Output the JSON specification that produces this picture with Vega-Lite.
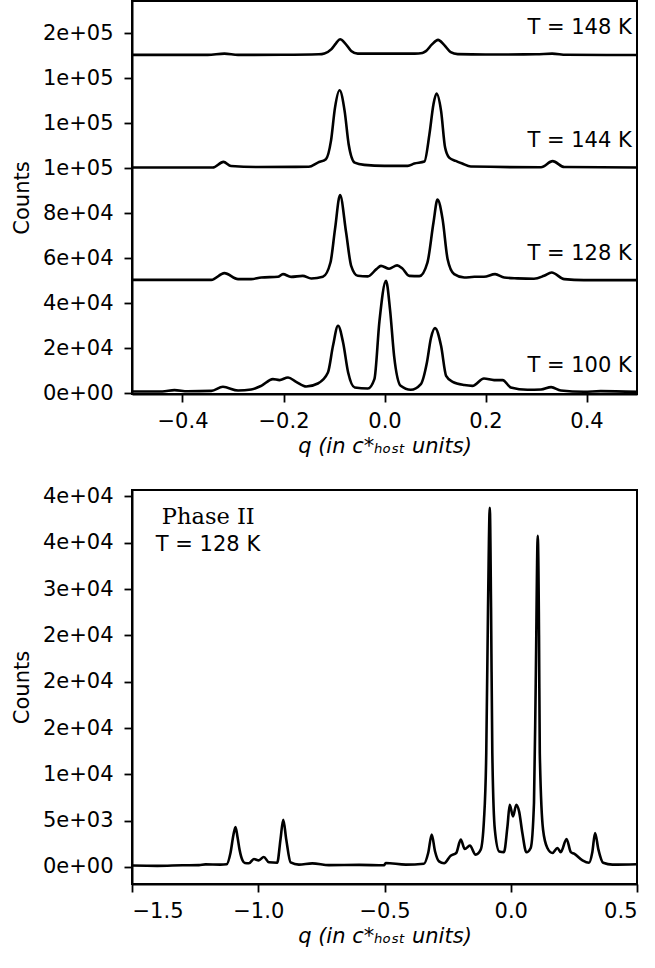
{
  "$schema": "https://vega.github.io/schema/vega-lite/v6.json",
  "background": "white",
  "padding": {"left": 10, "top": 0, "right": 0, "bottom": 5},
  "spacing": 27,
  "config": {
    "view": {"stroke": "black", "strokeWidth": 2},
    "font": "DejaVu Sans",
    "axis": {
      "domainColor": "black", "domainWidth": 2,
      "tickColor": "black", "tickWidth": 1.8, "tickSize": 8,
      "labelFontSize": 21, "labelColor": "black", "labelFont": "DejaVu Sans", "labelPadding": 8,
      "titleFontSize": 21, "titleFontWeight": "normal", "titleColor": "black", "titleFont": "DejaVu Sans",
      "grid": false
    },
    "axisY": {"labelPadding": 11, "titlePadding": 10}
  },
  "datasets": {
    "top": [
      {"T": "148 K", "q": -0.5, "counts": 150350}, {"T": "148 K", "q": -0.35, "counts": 150350}, {"T": "148 K", "q": -0.317, "counts": 150900}, {"T": "148 K", "q": -0.29, "counts": 150350}, {"T": "148 K", "q": -0.2, "counts": 150400}, {"T": "148 K", "q": -0.13, "counts": 150600}, {"T": "148 K", "q": -0.119, "counts": 151000}, {"T": "148 K", "q": -0.105, "counts": 152900}, {"T": "148 K", "q": -0.096, "counts": 155500}, {"T": "148 K", "q": -0.088, "counts": 157300}, {"T": "148 K", "q": -0.078, "counts": 155500}, {"T": "148 K", "q": -0.066, "counts": 152100}, {"T": "148 K", "q": -0.053, "counts": 150900}, {"T": "148 K", "q": -0.03, "counts": 150900}, {"T": "148 K", "q": 0.0, "counts": 150900}, {"T": "148 K", "q": 0.06, "counts": 150900}, {"T": "148 K", "q": 0.075, "counts": 151200}, {"T": "148 K", "q": 0.082, "counts": 152000}, {"T": "148 K", "q": 0.094, "counts": 155000}, {"T": "148 K", "q": 0.106, "counts": 157000}, {"T": "148 K", "q": 0.118, "counts": 154800}, {"T": "148 K", "q": 0.131, "counts": 151600}, {"T": "148 K", "q": 0.145, "counts": 150700}, {"T": "148 K", "q": 0.2, "counts": 150500}, {"T": "148 K", "q": 0.3, "counts": 150600}, {"T": "148 K", "q": 0.332, "counts": 150900}, {"T": "148 K", "q": 0.36, "counts": 150400}, {"T": "148 K", "q": 0.5, "counts": 150300},
      {"T": "144 K", "q": -0.5, "counts": 100300}, {"T": "144 K", "q": -0.34, "counts": 100300}, {"T": "144 K", "q": -0.319, "counts": 102790}, {"T": "144 K", "q": -0.304, "counts": 100970}, {"T": "144 K", "q": -0.25, "counts": 100500}, {"T": "144 K", "q": -0.15, "counts": 100600}, {"T": "144 K", "q": -0.132, "counts": 102480}, {"T": "144 K", "q": -0.116, "counts": 104000}, {"T": "144 K", "q": -0.106, "counts": 112120}, {"T": "144 K", "q": -0.098, "counts": 126920}, {"T": "144 K", "q": -0.089, "counts": 134600}, {"T": "144 K", "q": -0.079, "counts": 125450}, {"T": "144 K", "q": -0.071, "counts": 110650}, {"T": "144 K", "q": -0.059, "counts": 102480}, {"T": "144 K", "q": -0.04, "counts": 101460}, {"T": "144 K", "q": 0.0, "counts": 101000}, {"T": "144 K", "q": 0.046, "counts": 101000}, {"T": "144 K", "q": 0.059, "counts": 102040}, {"T": "144 K", "q": 0.079, "counts": 102920}, {"T": "144 K", "q": 0.089, "counts": 115100}, {"T": "144 K", "q": 0.097, "counts": 128430}, {"T": "144 K", "q": 0.103, "counts": 133150}, {"T": "144 K", "q": 0.112, "counts": 125450}, {"T": "144 K", "q": 0.12, "counts": 109150}, {"T": "144 K", "q": 0.128, "counts": 104700}, {"T": "144 K", "q": 0.141, "counts": 103230}, {"T": "144 K", "q": 0.154, "counts": 102040}, {"T": "144 K", "q": 0.171, "counts": 100700}, {"T": "144 K", "q": 0.31, "counts": 100400}, {"T": "144 K", "q": 0.333, "counts": 103100}, {"T": "144 K", "q": 0.356, "counts": 100500}, {"T": "144 K", "q": 0.5, "counts": 100300},
      {"T": "128 K", "q": -0.5, "counts": 50350}, {"T": "128 K", "q": -0.343, "counts": 50350}, {"T": "128 K", "q": -0.317, "counts": 53330}, {"T": "128 K", "q": -0.29, "counts": 50660}, {"T": "128 K", "q": -0.264, "counts": 50660}, {"T": "128 K", "q": -0.244, "counts": 51370}, {"T": "128 K", "q": -0.211, "counts": 51700}, {"T": "128 K", "q": -0.201, "counts": 52880}, {"T": "128 K", "q": -0.185, "counts": 51680}, {"T": "128 K", "q": -0.162, "counts": 52130}, {"T": "128 K", "q": -0.145, "counts": 50930}, {"T": "128 K", "q": -0.122, "counts": 51680}, {"T": "128 K", "q": -0.107, "counts": 58040}, {"T": "128 K", "q": -0.098, "counts": 72880}, {"T": "128 K", "q": -0.088, "counts": 88000}, {"T": "128 K", "q": -0.076, "counts": 71370}, {"T": "128 K", "q": -0.066, "counts": 56570}, {"T": "128 K", "q": -0.053, "counts": 52130}, {"T": "128 K", "q": -0.033, "counts": 51900}, {"T": "128 K", "q": -0.016, "counts": 55100}, {"T": "128 K", "q": -0.007, "counts": 56570}, {"T": "128 K", "q": 0.009, "counts": 55300}, {"T": "128 K", "q": 0.025, "counts": 56800}, {"T": "128 K", "q": 0.035, "counts": 55500}, {"T": "128 K", "q": 0.049, "counts": 52130}, {"T": "128 K", "q": 0.069, "counts": 52000}, {"T": "128 K", "q": 0.085, "counts": 58040}, {"T": "128 K", "q": 0.097, "counts": 75820}, {"T": "128 K", "q": 0.105, "counts": 86000}, {"T": "128 K", "q": 0.115, "counts": 77330}, {"T": "128 K", "q": 0.125, "counts": 59530}, {"T": "128 K", "q": 0.138, "counts": 52880}, {"T": "128 K", "q": 0.158, "counts": 51370}, {"T": "128 K", "q": 0.178, "counts": 51700}, {"T": "128 K", "q": 0.197, "counts": 51700}, {"T": "128 K", "q": 0.219, "counts": 52880}, {"T": "128 K", "q": 0.237, "counts": 51370}, {"T": "128 K", "q": 0.263, "counts": 51000}, {"T": "128 K", "q": 0.296, "counts": 50800}, {"T": "128 K", "q": 0.316, "counts": 52130}, {"T": "128 K", "q": 0.331, "counts": 53600}, {"T": "128 K", "q": 0.356, "counts": 50660}, {"T": "128 K", "q": 0.395, "counts": 50220}, {"T": "128 K", "q": 0.5, "counts": 50220},
      {"T": "100 K", "q": -0.5, "counts": 700}, {"T": "100 K", "q": -0.44, "counts": 700}, {"T": "100 K", "q": -0.416, "counts": 1330}, {"T": "100 K", "q": -0.39, "counts": 800}, {"T": "100 K", "q": -0.343, "counts": 1000}, {"T": "100 K", "q": -0.32, "counts": 2800}, {"T": "100 K", "q": -0.29, "counts": 1150}, {"T": "100 K", "q": -0.264, "counts": 1600}, {"T": "100 K", "q": -0.244, "counts": 3240}, {"T": "100 K", "q": -0.221, "counts": 6220}, {"T": "100 K", "q": -0.208, "counts": 5780}, {"T": "100 K", "q": -0.191, "counts": 6930}, {"T": "100 K", "q": -0.175, "counts": 5020}, {"T": "100 K", "q": -0.155, "counts": 2930}, {"T": "100 K", "q": -0.132, "counts": 4270}, {"T": "100 K", "q": -0.112, "counts": 9150}, {"T": "100 K", "q": -0.102, "counts": 21020}, {"T": "100 K", "q": -0.092, "counts": 29910}, {"T": "100 K", "q": -0.082, "counts": 22490}, {"T": "100 K", "q": -0.072, "counts": 9150}, {"T": "100 K", "q": -0.059, "counts": 2490}, {"T": "100 K", "q": -0.033, "counts": 2040}, {"T": "100 K", "q": -0.02, "counts": 6220}, {"T": "100 K", "q": -0.01, "counts": 32000}, {"T": "100 K", "q": 0.003, "counts": 49900}, {"T": "100 K", "q": 0.011, "counts": 37000}, {"T": "100 K", "q": 0.019, "counts": 16580}, {"T": "100 K", "q": 0.032, "counts": 3240}, {"T": "100 K", "q": 0.052, "counts": 1470}, {"T": "100 K", "q": 0.072, "counts": 4000}, {"T": "100 K", "q": 0.084, "counts": 13600}, {"T": "100 K", "q": 0.092, "counts": 24500}, {"T": "100 K", "q": 0.1, "counts": 28890}, {"T": "100 K", "q": 0.112, "counts": 21020}, {"T": "100 K", "q": 0.122, "counts": 7690}, {"T": "100 K", "q": 0.135, "counts": 5020}, {"T": "100 K", "q": 0.158, "counts": 3560}, {"T": "100 K", "q": 0.174, "counts": 3200}, {"T": "100 K", "q": 0.197, "counts": 6490}, {"T": "100 K", "q": 0.217, "counts": 5780}, {"T": "100 K", "q": 0.234, "counts": 5780}, {"T": "100 K", "q": 0.25, "counts": 2490}, {"T": "100 K", "q": 0.283, "counts": 1470}, {"T": "100 K", "q": 0.31, "counts": 1600}, {"T": "100 K", "q": 0.33, "counts": 2670}, {"T": "100 K", "q": 0.349, "counts": 1160}, {"T": "100 K", "q": 0.395, "counts": 580}, {"T": "100 K", "q": 0.428, "counts": 900}, {"T": "100 K", "q": 0.5, "counts": 600}
    ],
    "topLabels": [
      {"label": "T = 148 K", "q": 0.4895, "counts": 159680},
      {"label": "T = 144 K", "q": 0.4895, "counts": 109590},
      {"label": "T = 128 K", "q": 0.4895, "counts": 59240},
      {"label": "T = 100 K", "q": 0.4895, "counts": 9600}
    ],
    "bottom": [
      {"q": -1.5, "counts": 150}, {"q": -1.4, "counts": 120}, {"q": -1.3, "counts": 180}, {"q": -1.235, "counts": 200}, {"q": -1.209, "counts": 280}, {"q": -1.15, "counts": 250}, {"q": -1.125, "counts": 300}, {"q": -1.11, "counts": 1510}, {"q": -1.098, "counts": 3500}, {"q": -1.09, "counts": 4320}, {"q": -1.082, "counts": 3200}, {"q": -1.074, "counts": 1870}, {"q": -1.062, "counts": 700}, {"q": -1.053, "counts": 430}, {"q": -1.037, "counts": 400}, {"q": -1.017, "counts": 860}, {"q": -0.998, "counts": 710}, {"q": -0.978, "counts": 1080}, {"q": -0.958, "counts": 500}, {"q": -0.925, "counts": 450}, {"q": -0.912, "counts": 2950}, {"q": -0.901, "counts": 5100}, {"q": -0.889, "counts": 2950}, {"q": -0.872, "counts": 500}, {"q": -0.839, "counts": 250}, {"q": -0.786, "counts": 390}, {"q": -0.72, "counts": 200}, {"q": -0.6, "counts": 220}, {"q": -0.502, "counts": 180}, {"q": -0.495, "counts": 430}, {"q": -0.416, "counts": 250}, {"q": -0.344, "counts": 350}, {"q": -0.327, "counts": 1510}, {"q": -0.313, "counts": 3490}, {"q": -0.3, "counts": 1700}, {"q": -0.284, "counts": 600}, {"q": -0.264, "counts": 400}, {"q": -0.238, "counts": 1220}, {"q": -0.216, "counts": 1510}, {"q": -0.198, "counts": 2950}, {"q": -0.182, "counts": 1940}, {"q": -0.162, "counts": 2300}, {"q": -0.139, "counts": 1330}, {"q": -0.119, "counts": 1870}, {"q": -0.106, "counts": 5100}, {"q": -0.097, "counts": 12300}, {"q": -0.09, "counts": 28000}, {"q": -0.083, "counts": 38770}, {"q": -0.078, "counts": 28000}, {"q": -0.073, "counts": 12300}, {"q": -0.063, "counts": 4020}, {"q": -0.046, "counts": 1680}, {"q": -0.027, "counts": 1600}, {"q": -0.013, "counts": 4380}, {"q": -0.004, "counts": 6720}, {"q": 0.009, "counts": 5460}, {"q": 0.022, "counts": 6720}, {"q": 0.033, "counts": 6000}, {"q": 0.046, "counts": 3670}, {"q": 0.062, "counts": 1580}, {"q": 0.079, "counts": 2050}, {"q": 0.092, "counts": 6900}, {"q": 0.099, "counts": 20000}, {"q": 0.107, "counts": 35750}, {"q": 0.112, "counts": 25000}, {"q": 0.115, "counts": 12300}, {"q": 0.128, "counts": 4020}, {"q": 0.145, "counts": 2050}, {"q": 0.165, "counts": 1510}, {"q": 0.185, "counts": 2050}, {"q": 0.198, "counts": 1600}, {"q": 0.221, "counts": 3020}, {"q": 0.238, "counts": 1600}, {"q": 0.251, "counts": 1430}, {"q": 0.284, "counts": 710}, {"q": 0.31, "counts": 450}, {"q": 0.323, "counts": 1600}, {"q": 0.334, "counts": 3670}, {"q": 0.347, "counts": 1900}, {"q": 0.366, "counts": 450}, {"q": 0.403, "counts": 250}, {"q": 0.5, "counts": 300}
    ],
    "bottomLabels": [
      {"label": "Phase II", "q": -1.198, "counts": 37040, "font": "serif"},
      {"label": "T = 128 K", "q": -1.199, "counts": 34130, "font": "sans"}
    ]
  },
  "vconcat": [
    {
      "width": 505,
      "height": 393,
      "layer": [
        {
          "data": {"name": "top"},
          "mark": {"type": "line", "color": "black", "strokeWidth": 2.6, "interpolate": "monotone", "clip": true},
          "encoding": {
            "x": {"field": "q", "type": "quantitative", "scale": {"domain": [-0.5, 0.5], "nice": false, "zero": false},
                  "axis": {"values": [-0.4, -0.2, 0, 0.2, 0.4], "format": ".1f", "title": "q (in c*ₕₒₛₜ units)", "titleFontStyle": "italic"}},
            "y": {"field": "counts", "type": "quantitative", "scale": {"domain": [-400, 174300], "nice": false, "zero": false},
                  "axis": {"values": [0, 20000, 40000, 60000, 80000, 100000, 120000, 140000, 160000], "labelExpr": "replace(format(datum.value, '.0e'), 'e+', 'e+0')", "title": "Counts"}},
            "detail": {"field": "T", "type": "nominal"}
          }
        },
        {
          "data": {"name": "topLabels"},
          "mark": {"type": "text", "align": "right", "baseline": "alphabetic", "fontSize": 21, "font": "DejaVu Sans", "color": "black"},
          "encoding": {
            "x": {"field": "q", "type": "quantitative"},
            "y": {"field": "counts", "type": "quantitative"},
            "text": {"field": "label"}
          }
        }
      ]
    },
    {
      "width": 505,
      "height": 394,
      "layer": [
        {
          "data": {"name": "bottom"},
          "mark": {"type": "line", "color": "black", "strokeWidth": 2.6, "interpolate": "monotone", "clip": true},
          "encoding": {
            "x": {"field": "q", "type": "quantitative", "scale": {"domain": [-1.5, 0.5], "nice": false, "zero": false},
                  "axis": {"values": [-1.5, -1.0, -0.5, 0, 0.5], "format": ".1f", "title": "q (in c*ₕₒₛₜ units)", "titleFontStyle": "italic"}},
            "y": {"field": "counts", "type": "quantitative", "scale": {"domain": [-1840, 40700], "nice": false, "zero": false},
                  "axis": {"values": [0, 5000, 10000, 15000, 20000, 25000, 30000, 35000, 40000], "labelExpr": "datum.value == 25000 ? '2e+04' : replace(format(datum.value, '.0e'), 'e+', 'e+0')", "title": "Counts"}}
          }
        },
        {
          "data": {"name": "bottomLabels"},
          "transform": [{"filter": "datum.font == 'serif'"}],
          "mark": {"type": "text", "align": "center", "baseline": "alphabetic", "fontSize": 22.5, "font": "DejaVu Serif", "color": "black"},
          "encoding": {
            "x": {"field": "q", "type": "quantitative"},
            "y": {"field": "counts", "type": "quantitative"},
            "text": {"field": "label"}
          }
        },
        {
          "data": {"name": "bottomLabels"},
          "transform": [{"filter": "datum.font == 'sans'"}],
          "mark": {"type": "text", "align": "center", "baseline": "alphabetic", "fontSize": 21, "font": "DejaVu Sans", "color": "black"},
          "encoding": {
            "x": {"field": "q", "type": "quantitative"},
            "y": {"field": "counts", "type": "quantitative"},
            "text": {"field": "label"}
          }
        }
      ]
    }
  ]
}
